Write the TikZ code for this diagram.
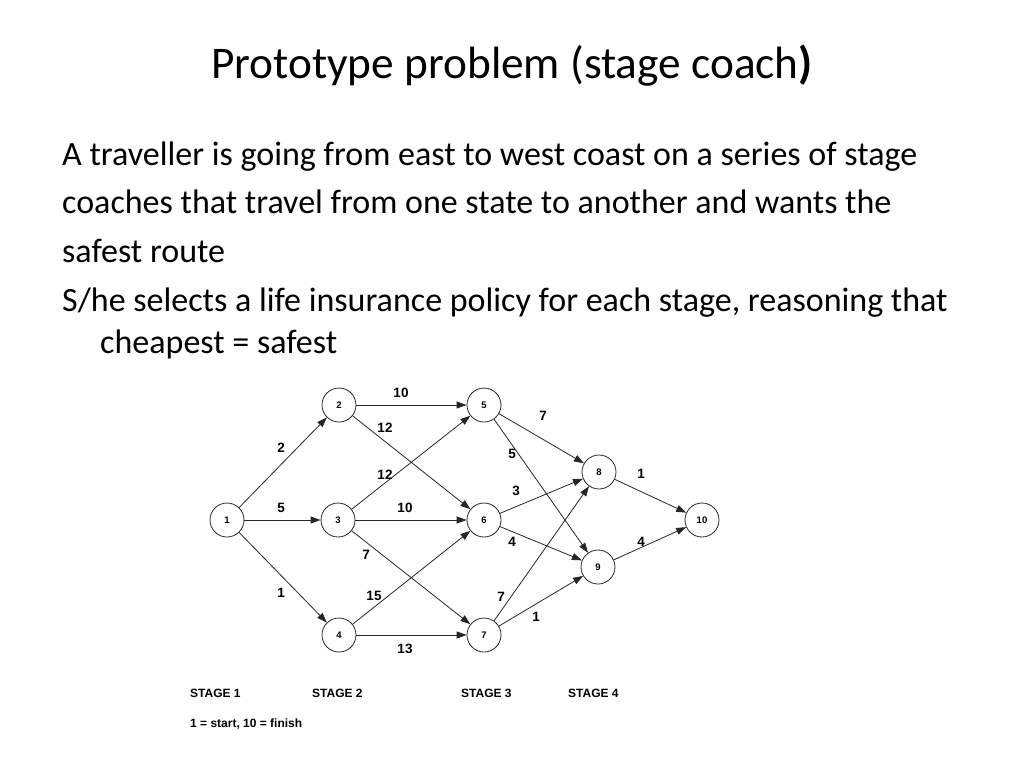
\documentclass[tikz,border=0pt]{standalone}
\usepackage{fontspec}
\setmainfont{Carlito}
\newfontfamily\arialfont{Liberation Sans}
\usetikzlibrary{arrows.meta}
\begin{document}
\begin{tikzpicture}[x=1pt, y=-1pt,
  stop/.style={draw=black!85, line width=0.8pt, circle, minimum size=34pt, inner sep=0pt,
    font=\arialfont\bfseries\fontsize{9.5}{9.5}\selectfont},
  leg/.style={draw=black!85, line width=0.8pt, -{Triangle[length=10pt,width=7pt]}},
  cost/.style={font=\arialfont\bfseries\fontsize{13.5}{13.5}\selectfont, inner sep=0pt},
  stagetxt/.style={font=\arialfont\bfseries\fontsize{12}{12}\selectfont, anchor=base west, inner sep=0pt},
  textline/.style={font=\fontsize{34}{34}\selectfont, anchor=base west, inner sep=0pt}]
\useasboundingbox (0,0) rectangle (1024,768);

% title and text
\node[font=\fontsize{45.3}{45.3}\selectfont, anchor=base west, inner sep=0pt] (title) at (211,78)
  {Prototype problem (stage coach\textbf{)}};
\node[textline] (t1) at (62,165) {A traveller is going from east to west coast on a series of stage};
\node[textline] (t2) at (62,213) {coaches that travel from one state to another and wants the};
\node[textline] (t3) at (62,262) {safest route};
\node[textline] (t4) at (62,311) {S/he selects a life insurance policy for each stage, reasoning that};
\node[textline] (t5) at (100,353) {cheapest = safest};

% stages
\node[stop] (s1) at (227,520) {1};
\node[stop] (s2) at (339,405) {2};
\node[stop] (s3) at (338,520) {3};
\node[stop] (s4) at (339,635) {4};
\node[stop] (s5) at (484,405) {5};
\node[stop] (s6) at (484,520) {6};
\node[stop] (s7) at (484,635) {7};
\node[stop] (s8) at (599,472) {8};
\node[stop] (s9) at (598,567) {9};
\node[stop] (s10) at (702,520) {10};

% legs
\draw[leg] (s1) -- (s2);
\draw[leg] (s1) -- (s3);
\draw[leg] (s1) -- (s4);
\draw[leg] (s2) -- (s5);
\draw[leg] (s2) -- (s6);
\draw[leg] (s3) -- (s5);
\draw[leg] (s3) -- (s6);
\draw[leg] (s3) -- (s7);
\draw[leg] (s4) -- (s6);
\draw[leg] (s4) -- (s7);
\draw[leg] (s5) -- (s8);
\draw[leg] (s5) -- (s9);
\draw[leg] (s6) -- (s8);
\draw[leg] (s6) -- (s9);
\draw[leg] (s7) -- (s8);
\draw[leg] (s7) -- (s9);
\draw[leg] (s8) -- (s10);
\draw[leg] (s9) -- (s10);

% costs
\node[cost] (c12) at (281,448) {2};
\node[cost] (c13) at (281,508) {5};
\node[cost] (c14) at (281,593) {1};
\node[cost] (c25) at (401,393) {10};
\node[cost] (c26) at (385,428) {12};
\node[cost] (c35) at (385,475) {12};
\node[cost] (c36) at (405,508) {10};
\node[cost] (c37) at (366,555) {7};
\node[cost] (c46) at (374,596) {15};
\node[cost] (c47) at (405,649) {13};
\node[cost] (c58) at (543,416) {7};
\node[cost] (c59) at (512,454) {5};
\node[cost] (c68) at (516,491) {3};
\node[cost] (c69) at (512,542) {4};
\node[cost] (c78) at (501,597) {7};
\node[cost] (c79) at (536,617) {1};
\node[cost] (c810) at (641,474) {1};
\node[cost] (c910) at (641,542) {4};

\node[stagetxt] (g1) at (190,697) {STAGE 1};
\node[stagetxt] (g2) at (312,697) {STAGE 2};
\node[stagetxt] (g3) at (461,697) {STAGE 3};
\node[stagetxt] (g4) at (568,697) {STAGE 4};
\node[stagetxt] (key) at (190,727) {1 = start, 10 = finish};

\end{tikzpicture}
\end{document}
